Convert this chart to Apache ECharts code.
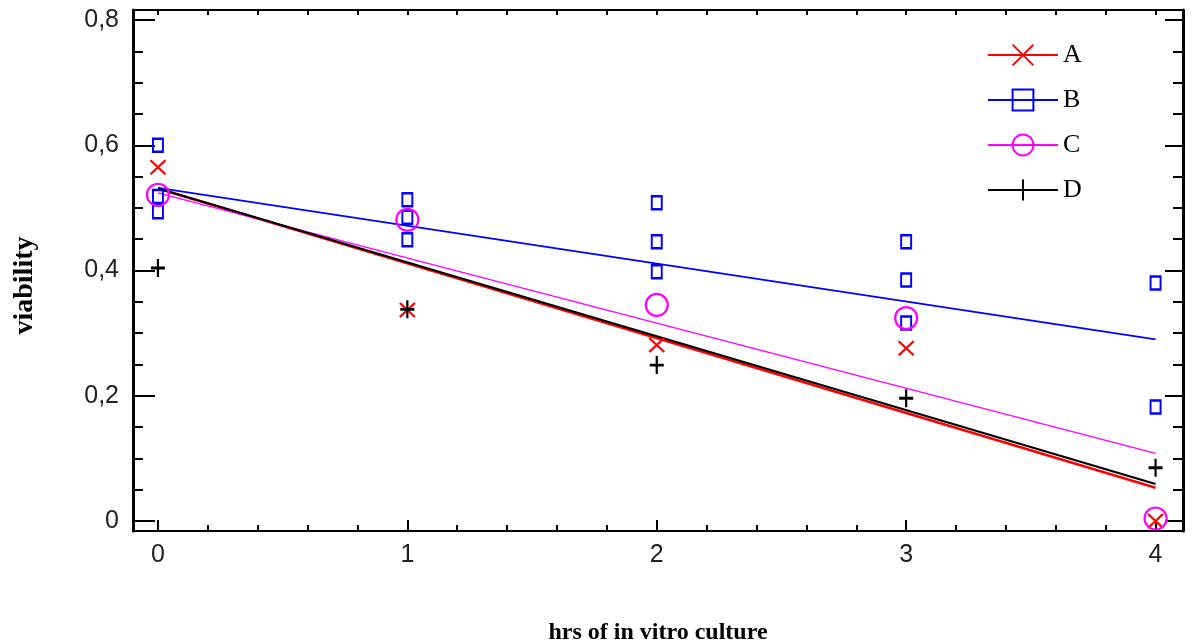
<!DOCTYPE html>
<html>
<head>
<meta charset="utf-8">
<script src="https://cdn.jsdelivr.net/npm/echarts@6/dist/echarts.min.js"></script>
<style>html,body{margin:0;padding:0;background:#fff}#c{width:1200px;height:644px}</style>
</head>
<body>
<div id="c"></div>
<script>
// ---- data ----
const seriesNames = ['A', 'B', 'C', 'D'];
const hoursA = [0, 1, 2, 3, 4];
const valuesA = [0.565, 0.337, 0.281, 0.276, 0.0];
const hoursB = [0, 0, 0, 1, 1, 1, 2, 2, 2, 3, 3, 3, 4, 4];
const valuesB = [0.600, 0.518, 0.494, 0.513, 0.485, 0.449, 0.508, 0.446, 0.398, 0.446, 0.385, 0.316, 0.380, 0.182];
const hoursC = [0, 1, 2, 3, 4];
const valuesC = [0.521, 0.481, 0.345, 0.324, 0.004];
const hoursD = [0, 1, 2, 3, 4];
const valuesD = [0.404, 0.338, 0.249, 0.196, 0.085];
// fitted lines: value at x = 0 and x = 4
const fitHours = [0, 4];
const fitA = [0.531, 0.053];
const fitB = [0.532, 0.290];
const fitC = [0.524, 0.108];
const fitD = [0.531, 0.059];
const xMajorTicks = [0, 1, 2, 3, 4];
const xMinorTicks = [0, 0.2, 0.4, 0.6, 0.8, 1, 1.2, 1.4, 1.6, 1.8, 2, 2.2, 2.4, 2.6, 2.8, 3, 3.2, 3.4, 3.6, 3.8, 4];
const yMajorTicks = [0, 0.2, 0.4, 0.6, 0.8];
const yMinorTicks = [0, 0.05, 0.1, 0.15, 0.2, 0.25, 0.3, 0.35, 0.4, 0.45, 0.5, 0.55, 0.6, 0.65, 0.7, 0.75, 0.8];
const xTitle = 'hrs of in vitro culture';
const yTitle = 'viability';

const colors = { A: '#ff0000', B: '#0000ff', C: '#ff00ff', D: '#000000' };
const symbols = {
  A: 'path://M0,0L10,10M10,0L0,10',
  B: 'rect',
  C: 'circle',
  D: 'path://M6,0L6,16M0,8L12,8'
};
const symbolSizes = { A: [15, 14], B: [10, 13], C: [22, 22], D: [14, 18] };

function pairs(xs, ys) { return xs.map((x, i) => [x, ys[i]]); }
const pts = { A: pairs(hoursA, valuesA), B: pairs(hoursB, valuesB), C: pairs(hoursC, valuesC), D: pairs(hoursD, valuesD) };
const fits = { A: pairs(fitHours, fitA), B: pairs(fitHours, fitB), C: pairs(fitHours, fitC), D: pairs(fitHours, fitD) };
const fitWidth = { A: 2.5, B: 1.8, C: 1.5, D: 2.2 };

const labelFont = "'Liberation Sans Narrow', 'Liberation Sans', Arial, sans-serif";
const titleFont = "'Liberation Serif', 'DejaVu Serif', serif";
const XMIN = -0.1, XMAX = 4.11, YMIN = -0.016, YMAX = 0.816;

function xAx(pos, ticks, len, showLabel, showLine) {
  return {
    type: 'value', position: pos, min: XMIN, max: XMAX, splitLine: { show: false },
    axisLine: { show: showLine, onZero: false, lineStyle: { color: '#000', width: 2 } },
    axisTick: { show: true, inside: true, length: len, customValues: ticks, lineStyle: { color: '#000', width: 2 } },
    axisLabel: showLabel ? { show: true, customValues: xMajorTicks, margin: 12, fontFamily: labelFont, fontSize: 25, color: '#222' } : { show: false }
  };
}
function yAx(pos, ticks, len, showLabel, showLine) {
  return {
    type: 'value', position: pos, min: YMIN, max: YMAX, splitLine: { show: false },
    axisLine: { show: showLine, onZero: false, lineStyle: { color: '#000', width: 3 } },
    axisTick: { show: true, inside: true, length: len, customValues: ticks, lineStyle: { color: '#000', width: 2 } },
    axisLabel: showLabel ? { show: true, customValues: yMajorTicks, margin: 14, fontFamily: labelFont, fontSize: 25, color: '#222',
      formatter: v => String(Math.round(v * 10) / 10).replace('.', ',') } : { show: false }
  };
}

const xAxes = [
  xAx('bottom', xMajorTicks, 11, true, true),
  xAx('bottom', xMinorTicks, 6, false, false),
  xAx('top', xMinorTicks, 5, false, true)
];
xAxes[0].name = xTitle;
xAxes[0].nameLocation = 'middle';
xAxes[0].nameGap = 90;
xAxes[0].nameTextStyle = { fontFamily: titleFont, fontWeight: 'bold', fontSize: 24, color: '#000' };

const yAxes = [
  yAx('left', yMajorTicks, 22, true, true),
  yAx('left', yMinorTicks, 10, false, false),
  yAx('right', yMinorTicks, 10, false, true),
  yAx('right', yMajorTicks, 18, false, false)
];
yAxes[0].name = yTitle;
yAxes[0].nameLocation = 'middle';
yAxes[0].nameGap = 94;
yAxes[0].nameRotate = 90;
yAxes[0].nameTextStyle = { fontFamily: titleFont, fontWeight: 'bold', fontSize: 28, color: '#000', padding: [0, 30, 0, 0] };

const series = [];
seriesNames.forEach(n => {
  series.push({
    name: n, type: 'line', data: fits[n], showSymbol: false,
    symbol: symbols[n], symbolSize: symbolSizes[n],
    itemStyle: { color: 'rgba(0,0,0,0)', borderColor: colors[n], borderWidth: 2.5 },
    lineStyle: { color: colors[n], width: fitWidth[n] },
    z: n === 'D' ? 4 : 3, silent: true, animation: false
  });
});
seriesNames.forEach(n => {
  series.push({
    name: n, type: 'scatter', data: pts[n],
    symbol: symbols[n], symbolSize: symbolSizes[n],
    itemStyle: { color: 'rgba(0,0,0,0)', borderColor: colors[n], borderWidth: n === 'D' ? 2.5 : 2.2, opacity: 1 },
    z: 5, silent: true, animation: false
  });
});

const chart = echarts.init(document.getElementById('c'), null, { renderer: 'canvas' });
chart.setOption({
  animation: false,
  backgroundColor: '#fff',
  grid: { left: 133, right: 17, top: 10, bottom: 113, containLabel: false, outerBoundsMode: 'none' },
  xAxis: xAxes,
  yAxis: yAxes,
  legend: {
    data: seriesNames, orient: 'vertical', left: 982, top: 37,
    itemWidth: 70, itemHeight: 26, itemGap: 19, selectedMode: false,
    textStyle: { fontFamily: titleFont, fontSize: 26, color: '#000' }
  },
  series: series
});
</script>
</body>
</html>
